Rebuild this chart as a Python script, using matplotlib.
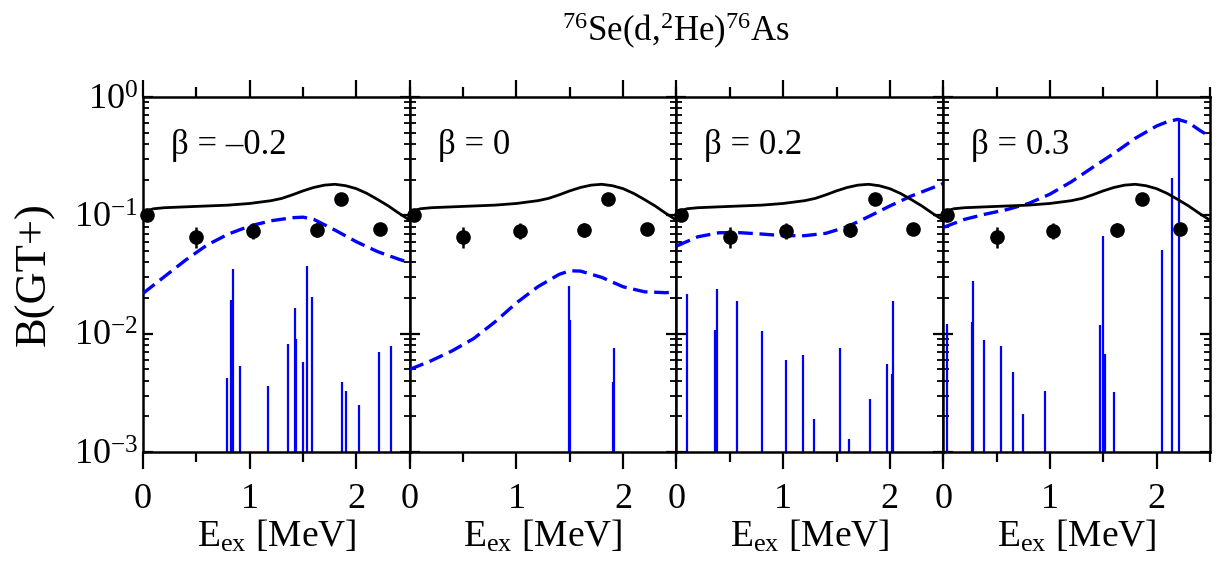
import matplotlib
matplotlib.use('Agg')
import matplotlib.pyplot as plt
from matplotlib.ticker import LogLocator, MultipleLocator, NullFormatter
import numpy as np

plt.rcParams['font.family'] = ['Liberation Serif', 'DejaVu Serif']
plt.rcParams['mathtext.fontset'] = 'custom'
plt.rcParams['mathtext.rm'] = 'Liberation Serif'
plt.rcParams['mathtext.it'] = 'Liberation Serif:italic'
plt.rcParams['mathtext.bf'] = 'Liberation Serif:bold'

# experimental points (same in every panel)
exp_e = [0.04, 0.50, 1.03, 1.63, 1.86, 2.22]
exp_b = [0.100, 0.065, 0.0736, 0.075, 0.138, 0.076]
exp_lo = [0.006, 0.012, 0.0107, 0.010, 0.008, 0.006]
exp_hi = [0.007, 0.015, 0.0126, 0.012, 0.009, 0.007]

# smoothed experimental distribution (solid black)
smooth_e = [0.0, 0.1, 0.2, 0.4, 0.6, 0.8, 1.0, 1.2, 1.3, 1.4, 1.5, 1.6, 1.7,
            1.8, 1.9, 2.0, 2.1, 2.2, 2.3, 2.4, 2.5]
smooth_b = [0.107, 0.1137, 0.116, 0.118, 0.120, 0.122, 0.126, 0.133, 0.139,
            0.149, 0.161, 0.172, 0.180, 0.183, 0.178, 0.168, 0.153, 0.136,
            0.120, 0.104, 0.091]

betas = ['\u03b2 = \u20130.2', '\u03b2 = 0', '\u03b2 = 0.2', '\u03b2 = 0.3']

# folded QRPA strength (blue dashed), one curve per deformation
fold_e_m02 = [0.0, 0.2, 0.4, 0.6, 0.8, 1.0, 1.2, 1.4, 1.5, 1.6, 1.8, 2.0, 2.2, 2.4, 2.5]
fold_b_m02 = [0.0219, 0.0303, 0.0419, 0.0561, 0.0695, 0.0812, 0.090, 0.0955,
              0.0965, 0.0925, 0.075, 0.0598, 0.0493, 0.0425, 0.0398]
fold_e_0 = [0.0, 0.2, 0.4, 0.6, 0.8, 1.0, 1.2, 1.4, 1.5, 1.6, 1.8, 2.0, 2.2, 2.4, 2.5]
fold_b_0 = [0.00499, 0.0059, 0.00718, 0.0091, 0.0126, 0.0182, 0.0249, 0.0317,
            0.034, 0.0338, 0.0299, 0.0249, 0.0226, 0.0222, 0.0226]
fold_e_02 = [0.0, 0.2, 0.4, 0.6, 0.8, 1.0, 1.2, 1.4, 1.6, 1.8, 2.0, 2.2, 2.4, 2.5]
fold_b_02 = [0.055, 0.0659, 0.0713, 0.0713, 0.0695, 0.0673, 0.0673, 0.0705,
             0.080, 0.0975, 0.120, 0.1456, 0.171, 0.186]
fold_e_03 = [0.0, 0.2, 0.4, 0.6, 0.8, 1.0, 1.2, 1.4, 1.6, 1.8, 2.0, 2.1, 2.2, 2.3, 2.4, 2.5]
fold_b_03 = [0.079, 0.0925, 0.1026, 0.112, 0.126, 0.151, 0.192, 0.254, 0.334,
             0.448, 0.569, 0.618, 0.648, 0.607, 0.526, 0.462]

# discrete QRPA states (blue sticks)
bar_e_m02 = [0.785, 0.829, 0.847, 0.907, 1.171, 1.358, 1.421, 1.436, 1.50,
             1.539, 1.583, 1.869, 1.90, 2.028, 2.21, 2.327]
bar_b_m02 = [0.0042, 0.0192, 0.0351, 0.0053, 0.0036, 0.0082, 0.0164, 0.0091,
             0.0058, 0.0375, 0.0203, 0.0039, 0.0033, 0.0025, 0.0070, 0.0079]
bar_e_0 = [1.49, 1.50, 1.91, 1.905]
bar_b_0 = [0.0252, 0.013, 0.0075, 0.0039]
bar_e_02 = [0.10, 0.364, 0.377, 0.564, 0.804, 1.022, 1.184, 1.293, 1.53,
            1.617, 1.813, 1.969, 2.022, 2.034]
bar_b_02 = [0.0215, 0.0107, 0.024, 0.0189, 0.0105, 0.0060, 0.0066, 0.0019,
            0.0075, 0.0013, 0.0028, 0.0055, 0.0046, 0.019]
bar_e_03 = [0.034, 0.271, 0.283, 0.386, 0.545, 0.651, 0.748, 0.95, 1.474,
            1.498, 1.517, 1.598, 2.05, 2.143, 2.209]
bar_b_03 = [0.012, 0.0126, 0.028, 0.0088, 0.0078, 0.0047, 0.0021, 0.0033,
            0.0118, 0.0672, 0.0067, 0.0032, 0.0506, 0.205, 0.64]

folds = [(fold_e_m02, fold_b_m02), (fold_e_0, fold_b_0),
         (fold_e_02, fold_b_02), (fold_e_03, fold_b_03)]
sticks = [(bar_e_m02, bar_b_m02), (bar_e_0, bar_b_0),
          (bar_e_02, bar_b_02), (bar_e_03, bar_b_03)]

fig, axes = plt.subplots(1, 4, figsize=(12.18, 5.70), dpi=100, sharey=True)
fig.subplots_adjust(left=0.1174, right=0.9934, top=0.8298, bottom=0.207, wspace=0)

blue = '#0000ff'
for i, ax in enumerate(axes):
    se, sb = sticks[i]
    ax.vlines(se, 1e-3, sb, color=blue, lw=1.6, zorder=2)
    fe, fb = folds[i]
    ax.plot(fe, fb, color=blue, lw=2.4, ls=(0, (4.4, 2.0)), zorder=3)
    ax.plot(smooth_e, smooth_b, color='black', lw=2.0, zorder=4)
    ax.errorbar(exp_e, exp_b, yerr=[exp_lo, exp_hi], fmt='o', color='black',
                ms=9.5, elinewidth=1.8, capsize=0, zorder=5, clip_on=False)

    ax.set_yscale('log')
    ax.set_xlim(0, 2.5)
    ax.set_ylim(1e-3, 1)
    ax.text(0.105, 0.84, betas[i], transform=ax.transAxes, fontsize=25)

    ax.xaxis.set_major_locator(MultipleLocator(1))
    ax.xaxis.set_minor_locator(MultipleLocator(0.5))
    ax.yaxis.set_major_locator(LogLocator(base=10, numticks=10))
    ax.yaxis.set_minor_locator(LogLocator(base=10, subs=np.arange(2, 10), numticks=10))
    ax.yaxis.set_minor_formatter(NullFormatter())
    ax.tick_params(axis='x', which='major', direction='out', length=12, width=1.6,
                   labelsize=26, pad=10, top=True)
    ax.tick_params(axis='x', which='minor', direction='out', length=7, width=1.6, top=True)
    ax.tick_params(axis='y', which='major', direction='in', length=7, width=1.6,
                   left=True, right=True, labelsize=26)
    ax.tick_params(axis='y', which='minor', direction='in', length=4.5, width=1.3,
                   left=True, right=True)
    for sp in ax.spines.values():
        sp.set_linewidth(1.8)
    ax.set_xlabel(r'E$_{\mathregular{ex}}$ [MeV]', fontsize=27, labelpad=2)
    if i > 0:
        ax.tick_params(axis='y', which='both', labelleft=False)

axes[0].set_ylabel('B(GT+)', fontsize=32, labelpad=14)
fig.text(0.555, 0.945, r'$^{76}$Se(d,$^{2}$He)$^{76}$As', ha='center', va='center',
         fontsize=25)

fig.savefig('out.png', dpi=100)
